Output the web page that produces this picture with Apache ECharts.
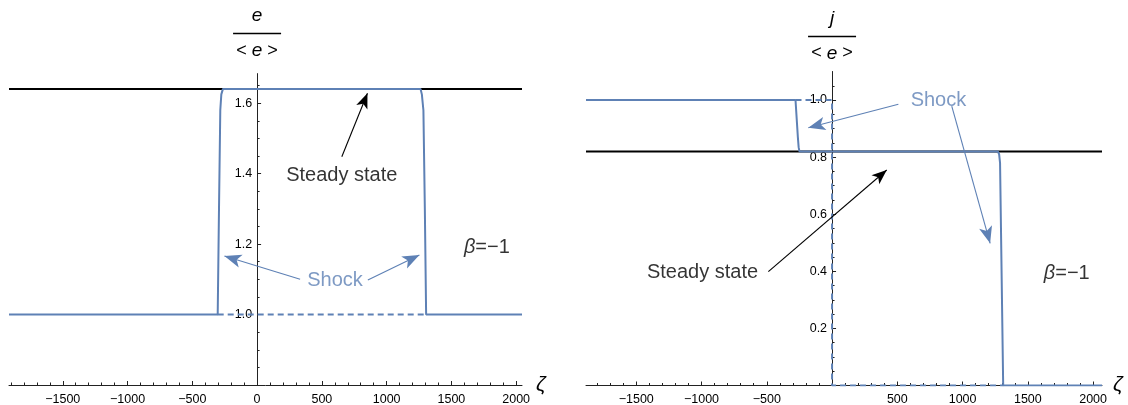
<!DOCTYPE html>
<html>
<head>
<meta charset="utf-8">
<script src="https://cdn.jsdelivr.net/npm/echarts@6/dist/echarts.min.js"></script>
<style>
  html, body { margin: 0; padding: 0; background: #ffffff; }
  #chart { width: 1128px; height: 405px; }
</style>
</head>
<body>
<div id="chart"></div>
<script>
// ---- axis extents and ticks ----
const zetaRangeE = [-1915, 2045];
const zetaRangeJ = [-1885, 2068];
const eRange = [0.8, 1.684];
const jRange = [0, 1.1];

const zetaMajorTicks = [-1500, -1000, -500, 0, 500, 1000, 1500, 2000];
const zetaLabelsE = [-1500, -1000, -500, 0, 500, 1000, 1500, 2000];
const zetaLabelsJ = [-1500, -1000, -500, 500, 1000, 1500, 2000];
const zetaMinorTicks = [-1900, -1800, -1700, -1600, -1400, -1300, -1200, -1100, -900, -800, -700, -600,
  -400, -300, -200, -100, 100, 200, 300, 400, 600, 700, 800, 900, 1100, 1200, 1300, 1400,
  1600, 1700, 1800, 1900];

const eMajorTicks = [0.8, 1.0, 1.2, 1.4, 1.6];
const eLabels = [1.0, 1.2, 1.4, 1.6];
const eMinorTicks = [0.85, 0.9, 0.95, 1.05, 1.1, 1.15, 1.25, 1.3, 1.35, 1.45, 1.5, 1.55, 1.65];

const jMajorTicks = [0, 0.2, 0.4, 0.6, 0.8, 1.0];
const jLabels = [0.2, 0.4, 0.6, 0.8, 1.0];
const jMinorTicks = [0.05, 0.1, 0.15, 0.25, 0.3, 0.35, 0.45, 0.5, 0.55, 0.65, 0.7, 0.75,
  0.85, 0.9, 0.95, 1.05];

// ---- energy density profile e/<e> ----
const eShock = [[-1915, 1.0], [-304, 1.0], [-294, 1.3], [-284, 1.58], [-276, 1.625], [-264, 1.64],
  [1262, 1.64], [1272, 1.625], [1284, 1.58], [1295, 1.3], [1305, 1.0], [2045, 1.0]];
const eInitial = [[-304, 1.0], [1305, 1.0]];
const eSteady = [[-1915, 1.64], [2045, 1.64]];

// ---- current profile j/<e> ----
const jShock = [[-1885, 1.0], [-280, 1.0], [-262, 0.87], [-256, 0.835], [-250, 0.82],
  [1270, 0.82], [1280, 0.81], [1287, 0.78], [1311, 0.0], [2068, 0.0]];
const jInitial = [[-280, 1.0], [0, 1.0], [0, 0.0], [1311, 0.0]];
const jSteady = [[-1885, 0.82], [2068, 0.82]];

// ---- annotations (data coordinates) ----
const eArrowsBlack = [[[654, 1.448], [852, 1.628]]];
const eArrowsBlue = [[[332, 1.100], [-252, 1.166]], [[855, 1.098], [1253, 1.169]]];
const eTextBlack = [{ name: 'Steady state', value: [654, 1.396] }];
const eTextBlue = [{ name: 'Shock', value: [602, 1.098] }];
const eBeta = [{ name: 'beta', value: [1774, 1.191] }];

const jArrowsBlack = [[[-488, 0.399], [419, 0.755]]];
const jArrowsBlue = [[[508, 0.985], [-182, 0.903]], [[917, 0.979], [1211, 0.498]]];
const jTextBlack = [{ name: 'Steady state', value: [-992, 0.397] }];
const jTextBlue = [{ name: 'Shock', value: [815, 1.0] }];
const jBeta = [{ name: 'beta', value: [1798, 0.393] }];

const BLUE = '#5e81b5';
const FONT = 'Liberation Sans, Arial, sans-serif';

const grids = [
  { left: 9, top: 73.6, width: 513, height: 311.4, outerBoundsMode: 'none' },
  { left: 586, top: 71.5, width: 516, height: 314, outerBoundsMode: 'none' }
];

// the vertical axis sits at ζ = 0 inside each panel
function zeroOffset(range, grid) {
  return -(0 - range[0]) / (range[1] - range[0]) * grid.width;
}

function fractionName(num) {
  return {
    name: '{n|' + num + '}\n{bar|}\n{d|< }{di|e}{d| >}',
    nameLocation: 'end',
    nameTextStyle: {
      align: 'center',
      verticalAlign: 'bottom',
      rich: {
        n: { fontFamily: FONT, fontSize: 19, fontStyle: 'italic', color: '#000', lineHeight: 22, align: 'center' },
        bar: { width: 48, height: 1.5, backgroundColor: '#000', lineHeight: 14, align: 'center' },
        d: { fontFamily: FONT, fontSize: 18, color: '#000', lineHeight: 20 },
        di: { fontFamily: FONT, fontSize: 19, fontStyle: 'italic', color: '#000', lineHeight: 20 }
      }
    }
  };
}

function xMain(grid, range, labels) {
  return {
    type: 'value', gridIndex: grid, position: 'bottom', min: range[0], max: range[1],
    axisLine: { show: true, onZero: false, lineStyle: { color: '#222', width: 1 } },
    axisTick: { show: true, inside: true, length: 4, customValues: zetaMajorTicks, lineStyle: { color: '#222' } },
    axisLabel: { show: true, customValues: labels, margin: 8, fontFamily: FONT, fontSize: 12.5, color: '#000',
      formatter: v => (v < 0 ? '\u2212' + Math.abs(v) : String(v)) },
    splitLine: { show: false },
    name: 'ζ', nameLocation: 'end', nameGap: 7,
    nameTextStyle: { fontFamily: FONT, fontSize: 21, fontStyle: 'italic', color: '#000', padding: [10, 0, 0, 0] }
  };
}
function xMinor(grid, range) {
  return {
    type: 'value', gridIndex: grid, position: 'bottom', min: range[0], max: range[1],
    axisLine: { show: false, onZero: false },
    axisTick: { show: true, inside: true, length: 2.5, customValues: zetaMinorTicks, lineStyle: { color: '#222' } },
    axisLabel: { show: false }, splitLine: { show: false }
  };
}
function yMain(grid, range, xRange, majors, labels, num, gap) {
  return Object.assign({
    type: 'value', gridIndex: grid, position: 'left', min: range[0], max: range[1],
    offset: zeroOffset(xRange, grids[grid]),
    axisLine: { show: true, onZero: false, lineStyle: { color: '#222', width: 1 } },
    axisTick: { show: true, inside: true, length: 4, customValues: majors, lineStyle: { color: '#222' } },
    axisLabel: { show: true, customValues: labels, margin: 5, fontFamily: FONT, fontSize: 12.5, color: '#000',
      formatter: v => v.toFixed(1) },
    splitLine: { show: false },
    nameGap: gap
  }, fractionName(num));
}
function yMinor(grid, range, xRange, minors) {
  return {
    type: 'value', gridIndex: grid, position: 'left', min: range[0], max: range[1],
    offset: zeroOffset(xRange, grids[grid]),
    axisLine: { show: false, onZero: false },
    axisTick: { show: true, inside: true, length: 2.5, customValues: minors, lineStyle: { color: '#222' } },
    axisLabel: { show: false }, splitLine: { show: false }
  };
}

function arrowLines(pairs, color, size) {
  return {
    silent: true, animation: false,
    symbol: ['none', 'arrow'], symbolSize: size,
    label: { show: false },
    lineStyle: { color: color, width: 1.1, type: 'solid' },
    emphasis: { disabled: true },
    data: pairs.map(p => [{ coord: p[0] }, { coord: p[1] }])
  };
}
function textSeries(xi, yi, data, color) {
  return {
    type: 'scatter', xAxisIndex: xi, yAxisIndex: yi, data: data, symbolSize: 0, silent: true, z: 5,
    label: { show: true, position: 'inside', formatter: '{b}', fontFamily: FONT, fontSize: 20, color: color }
  };
}
function betaSeries(xi, yi, data) {
  return {
    type: 'scatter', xAxisIndex: xi, yAxisIndex: yi, data: data, symbolSize: 0, silent: true, z: 5,
    label: { show: true, position: 'inside', formatter: '{i|β}=\u22121', fontFamily: FONT, fontSize: 20, color: '#000',
      rich: { i: { fontFamily: FONT, fontSize: 20, fontStyle: 'italic', color: '#000' } } }
  };
}

const chart = echarts.init(document.getElementById('chart'), null, { renderer: 'canvas' });
chart.setOption({
  animation: false,
  backgroundColor: '#ffffff',
  grid: grids,
  xAxis: [
    xMain(0, zetaRangeE, zetaLabelsE), xMinor(0, zetaRangeE),
    xMain(1, zetaRangeJ, zetaLabelsJ), xMinor(1, zetaRangeJ)
  ],
  yAxis: [
    yMain(0, eRange, zetaRangeE, eMajorTicks, eLabels, 'e', 13), yMinor(0, eRange, zetaRangeE, eMinorTicks),
    yMain(1, jRange, zetaRangeJ, jMajorTicks, jLabels, 'j', 8), yMinor(1, jRange, zetaRangeJ, jMinorTicks)
  ],
  series: [
    // left panel: e / <e>
    { type: 'line', xAxisIndex: 0, yAxisIndex: 0, data: eSteady, showSymbol: false, silent: true, z: 2,
      lineStyle: { color: '#000', width: 2 }, markLine: arrowLines(eArrowsBlack, '#000', [9, 15]) },
    { type: 'line', xAxisIndex: 0, yAxisIndex: 0, data: eInitial, showSymbol: false, silent: true, z: 3,
      lineStyle: { color: BLUE, width: 2, type: [6, 4] } },
    { type: 'line', xAxisIndex: 0, yAxisIndex: 0, data: eShock, showSymbol: false, silent: true, z: 4,
      lineStyle: { color: BLUE, width: 2 }, markLine: arrowLines(eArrowsBlue, BLUE, [10, 17]) },
    textSeries(0, 0, eTextBlack, '#000'),
    textSeries(0, 0, eTextBlue, BLUE),
    betaSeries(0, 0, eBeta),
    // right panel: j / <e>
    { type: 'line', xAxisIndex: 2, yAxisIndex: 2, data: jSteady, showSymbol: false, silent: true, z: 2,
      lineStyle: { color: '#000', width: 2 }, markLine: arrowLines(jArrowsBlack, '#000', [9, 15]) },
    { type: 'line', xAxisIndex: 2, yAxisIndex: 2, data: jInitial, showSymbol: false, silent: true, z: 3,
      lineStyle: { color: BLUE, width: 2, type: [6, 4] } },
    { type: 'line', xAxisIndex: 2, yAxisIndex: 2, data: jShock, showSymbol: false, silent: true, z: 4,
      lineStyle: { color: BLUE, width: 2 }, markLine: arrowLines(jArrowsBlue, BLUE, [10, 17]) },
    textSeries(2, 2, jTextBlack, '#000'),
    textSeries(2, 2, jTextBlue, BLUE),
    betaSeries(2, 2, jBeta)
  ]
});
</script>
</body>
</html>
